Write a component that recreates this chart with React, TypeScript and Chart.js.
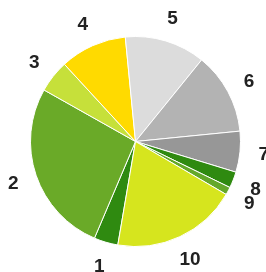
import React, { useEffect, useRef } from "react";
import { Chart, registerables } from "chart.js";

Chart.register(...registerables);

const labels = ["1", "2", "3", "4", "5", "6", "7", "8", "9", "10"];
const values = [3.7, 26.8, 5.0, 10.3, 12.4, 12.6, 6.3, 2.5, 1.2, 19.3];
const colors = [
  "#2f8a10",
  "#6aaa28",
  "#c6e03a",
  "#ffda00",
  "#dcdcdc",
  "#b3b3b3",
  "#979797",
  "#2f8a10",
  "#64a82a",
  "#d6e51e",
];

const outsideLabels = {
  id: "outsideLabels",
  afterDatasetsDraw(chart: any) {
    const ctx = chart.ctx;
    const meta = chart.getDatasetMeta(0);
    ctx.save();
    ctx.fillStyle = "#222222";
    ctx.font = "bold 19px 'Liberation Sans', Arial, sans-serif";
    ctx.textAlign = "center";
    ctx.textBaseline = "middle";
    meta.data.forEach((arc: any, i: number) => {
      const { x, y, startAngle, endAngle, outerRadius } = arc.getProps(
        ["x", "y", "startAngle", "endAngle", "outerRadius"],
        true
      );
      const mid = (startAngle + endAngle) / 2;
      const r = outerRadius + 24;
      ctx.fillText(chart.data.labels[i], x + Math.cos(mid) * r, y + Math.sin(mid) * r + 1);
    });
    ctx.restore();
  },
};

export default function App() {
  const ref = useRef<HTMLCanvasElement>(null);
  useEffect(() => {
    document.body.style.margin = "0";
    const chart = new Chart(ref.current!, {
      type: "pie",
      data: {
        labels,
        datasets: [
          {
            data: values,
            backgroundColor: colors,
            borderColor: "#ffffff",
            borderWidth: 1,
            hoverOffset: 0,
          },
        ],
      },
      options: {
        animation: false,
        responsive: false,
        rotation: 189.7,
        layout: { padding: { left: 30, right: 25, top: 36, bottom: 25 } },
        plugins: { legend: { display: false }, tooltip: { enabled: false } },
      },
      plugins: [outsideLabels],
    });
    return () => chart.destroy();
  }, []);
  return (
    <div style={{ width: 266, height: 272, background: "#fff" }}>
      <canvas ref={ref} width={266} height={272} style={{ display: "block" }} />
    </div>
  );
}
